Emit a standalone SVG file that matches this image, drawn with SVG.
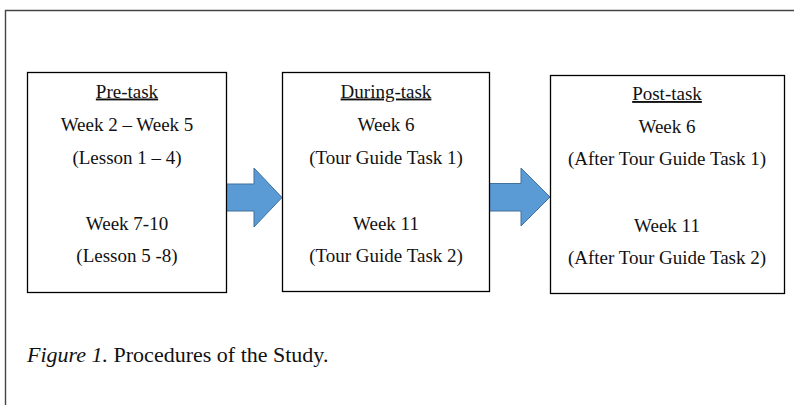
<svg xmlns="http://www.w3.org/2000/svg" width="794" height="405" viewBox="0 0 794 405">
  <defs>
    <style>
      .frame { fill: none; stroke: #444; stroke-width: 1.4; }
      .box { fill: #fff; stroke: #000; stroke-width: 1.3; }
      .arrow { fill: #5B9BD5; stroke: #41719C; stroke-width: 1; }
      .t { font-family: "Liberation Serif", "Times New Roman", serif; font-size: 19px; fill: #111; text-anchor: middle; }
      .h { text-decoration: underline; }
      .cap { font-family: "Liberation Serif", "Times New Roman", serif; font-size: 22px; fill: #111; }
    </style>
  </defs>
  <rect width="794" height="405" fill="#fff"/>
  <path class="frame" d="M5.5,405 V10.5 H794"/>

  <g id="connectors">
    <path id="arrow1" class="arrow" d="M226.5,184 H254 V168 L282,197.5 L254,227 V211 H226.5 Z"/>
    <path id="arrow2" class="arrow" d="M489.5,183.5 H521 V168 L550,197 L521,226 V211 H489.5 Z"/>
  </g>

  <g id="pre-task">
    <rect class="box" x="27.5" y="72.5" width="199" height="220"/>
    <text class="t h" x="127" y="97.5">Pre-task</text>
    <text class="t" x="127" y="130.5">Week 2 – Week 5</text>
    <text class="t" x="127" y="163.5">(Lesson 1 – 4)</text>
    <text class="t" x="127" y="229.5">Week 7-10</text>
    <text class="t" x="127" y="262">(Lesson 5 -8)</text>
  </g>

  <g id="during-task">
    <rect class="box" x="282.5" y="72.5" width="207" height="219"/>
    <text class="t h" x="386" y="97.5">During-task</text>
    <text class="t" x="386" y="130.5">Week 6</text>
    <text class="t" x="386" y="163.5">(Tour Guide Task 1)</text>
    <text class="t" x="386" y="229.5">Week 11</text>
    <text class="t" x="386" y="262">(Tour Guide Task 2)</text>
  </g>

  <g id="post-task">
    <rect class="box" x="550.5" y="75.5" width="234" height="218"/>
    <text class="t h" x="667" y="100">Post-task</text>
    <text class="t" x="667" y="132.7">Week 6</text>
    <text class="t" x="667" y="165">(After Tour Guide Task 1)</text>
    <text class="t" x="667" y="231.7">Week 11</text>
    <text class="t" x="667" y="264.3">(After Tour Guide Task 2)</text>
  </g>

  <text class="cap" x="27" y="362"><tspan font-style="italic">Figure 1.</tspan> Procedures of the Study.</text>
</svg>
